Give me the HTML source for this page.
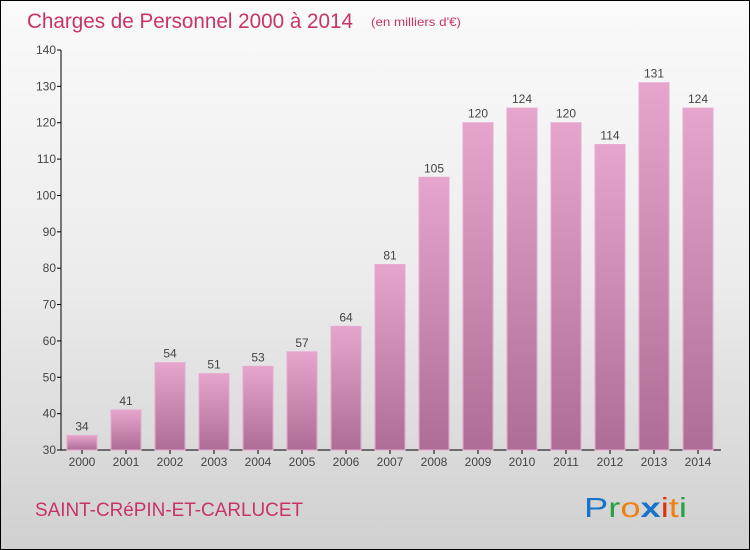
<!DOCTYPE html>
<html><head><meta charset="utf-8"><style>
body{margin:0}
#c{position:relative;width:748px;height:548px;border:1px solid #000;background:linear-gradient(#fafafa 0%,#ececec 50%,#d0d0d0 100%);font-family:"Liberation Sans",sans-serif;overflow:hidden}
</style></head><body>
<div id="c">
<svg width="748" height="548" id="svg">
<defs><linearGradient id="g" x1="0" y1="0" x2="0" y2="1"><stop offset="0" stop-color="#e6a5cc"/><stop offset="1" stop-color="#ad6d96"/></linearGradient></defs>
<text x="26" y="27" font-size="21" fill="#c8336a" textLength="326" lengthAdjust="spacingAndGlyphs">Charges de Personnel 2000 à 2014</text>
<text x="370" y="25" font-size="12" fill="#c8336a" textLength="90" lengthAdjust="spacingAndGlyphs">(en milliers d'€)</text>
<text x="34" y="515" font-size="19" fill="#c8336a" textLength="268" lengthAdjust="spacingAndGlyphs">SAINT-CRéPIN-ET-CARLUCET</text>
<g font-size="28">
<text x="583" y="516" textLength="103" lengthAdjust="spacingAndGlyphs"><tspan fill="#1a73c8">P</tspan><tspan fill="#2aa040">r</tspan><tspan fill="#f08010">o</tspan><tspan fill="#1a73c8" font-weight="bold">x</tspan><tspan fill="#e03010">i</tspan><tspan fill="#f08010">t</tspan><tspan fill="#2aa040">i</tspan></text></g>
<g id="plot"></g>
</svg></div>
<script>
const years=["2000","2001","2002","2003","2004","2005","2006","2007","2008","2009","2010","2011","2012","2013","2014"];
const values=[34,41,54,51,53,57,64,81,105,120,124,120,114,131,124];
const ticks=[30,40,50,60,70,80,90,100,110,120,130,140];
const NS="http://www.w3.org/2000/svg";
const g=document.getElementById('plot');
const y=v=>449-(v-30)*400/110;
const x=i=>81+i*44;
function mk(t,a){const e=document.createElementNS(NS,t);for(const k in a)e.setAttribute(k,a[k]);g.appendChild(e);return e;}
const ax=mk('line',{x1:60,y1:49,x2:60,y2:449,stroke:'#000'});


const bx=mk('line',{x1:60,y1:449,x2:720,y2:449,stroke:'#000'});


ticks.forEach(t=>{
 const l=mk('line',{x1:56,x2:60,y1:y(t),y2:y(t),stroke:'#000'});
 
 
 const tx=mk('text',{x:55,y:y(t)+4,'font-size':12,fill:'#444','text-anchor':'end'});
 tx.textContent=t;
 
 
});
values.forEach((v,i)=>{
 const r=mk('rect',{x:x(i)-15,y:y(v),width:30,height:y(30)-y(v),fill:'url(#g)',stroke:'#e8a8cf'});
 
 
 const t=mk('text',{x:x(i),y:y(v)-5,'font-size':12,fill:'#444','text-anchor':'middle'});
 t.textContent=v;
 
 
 const k=mk('line',{x1:x(i),x2:x(i),y1:449,y2:453,stroke:'#000'});
 
 
 const xl=mk('text',{x:x(i),y:465,'font-size':12,fill:'#444','text-anchor':'middle'});
 xl.textContent=years[i];
 
 
});
</script>
</body></html>
